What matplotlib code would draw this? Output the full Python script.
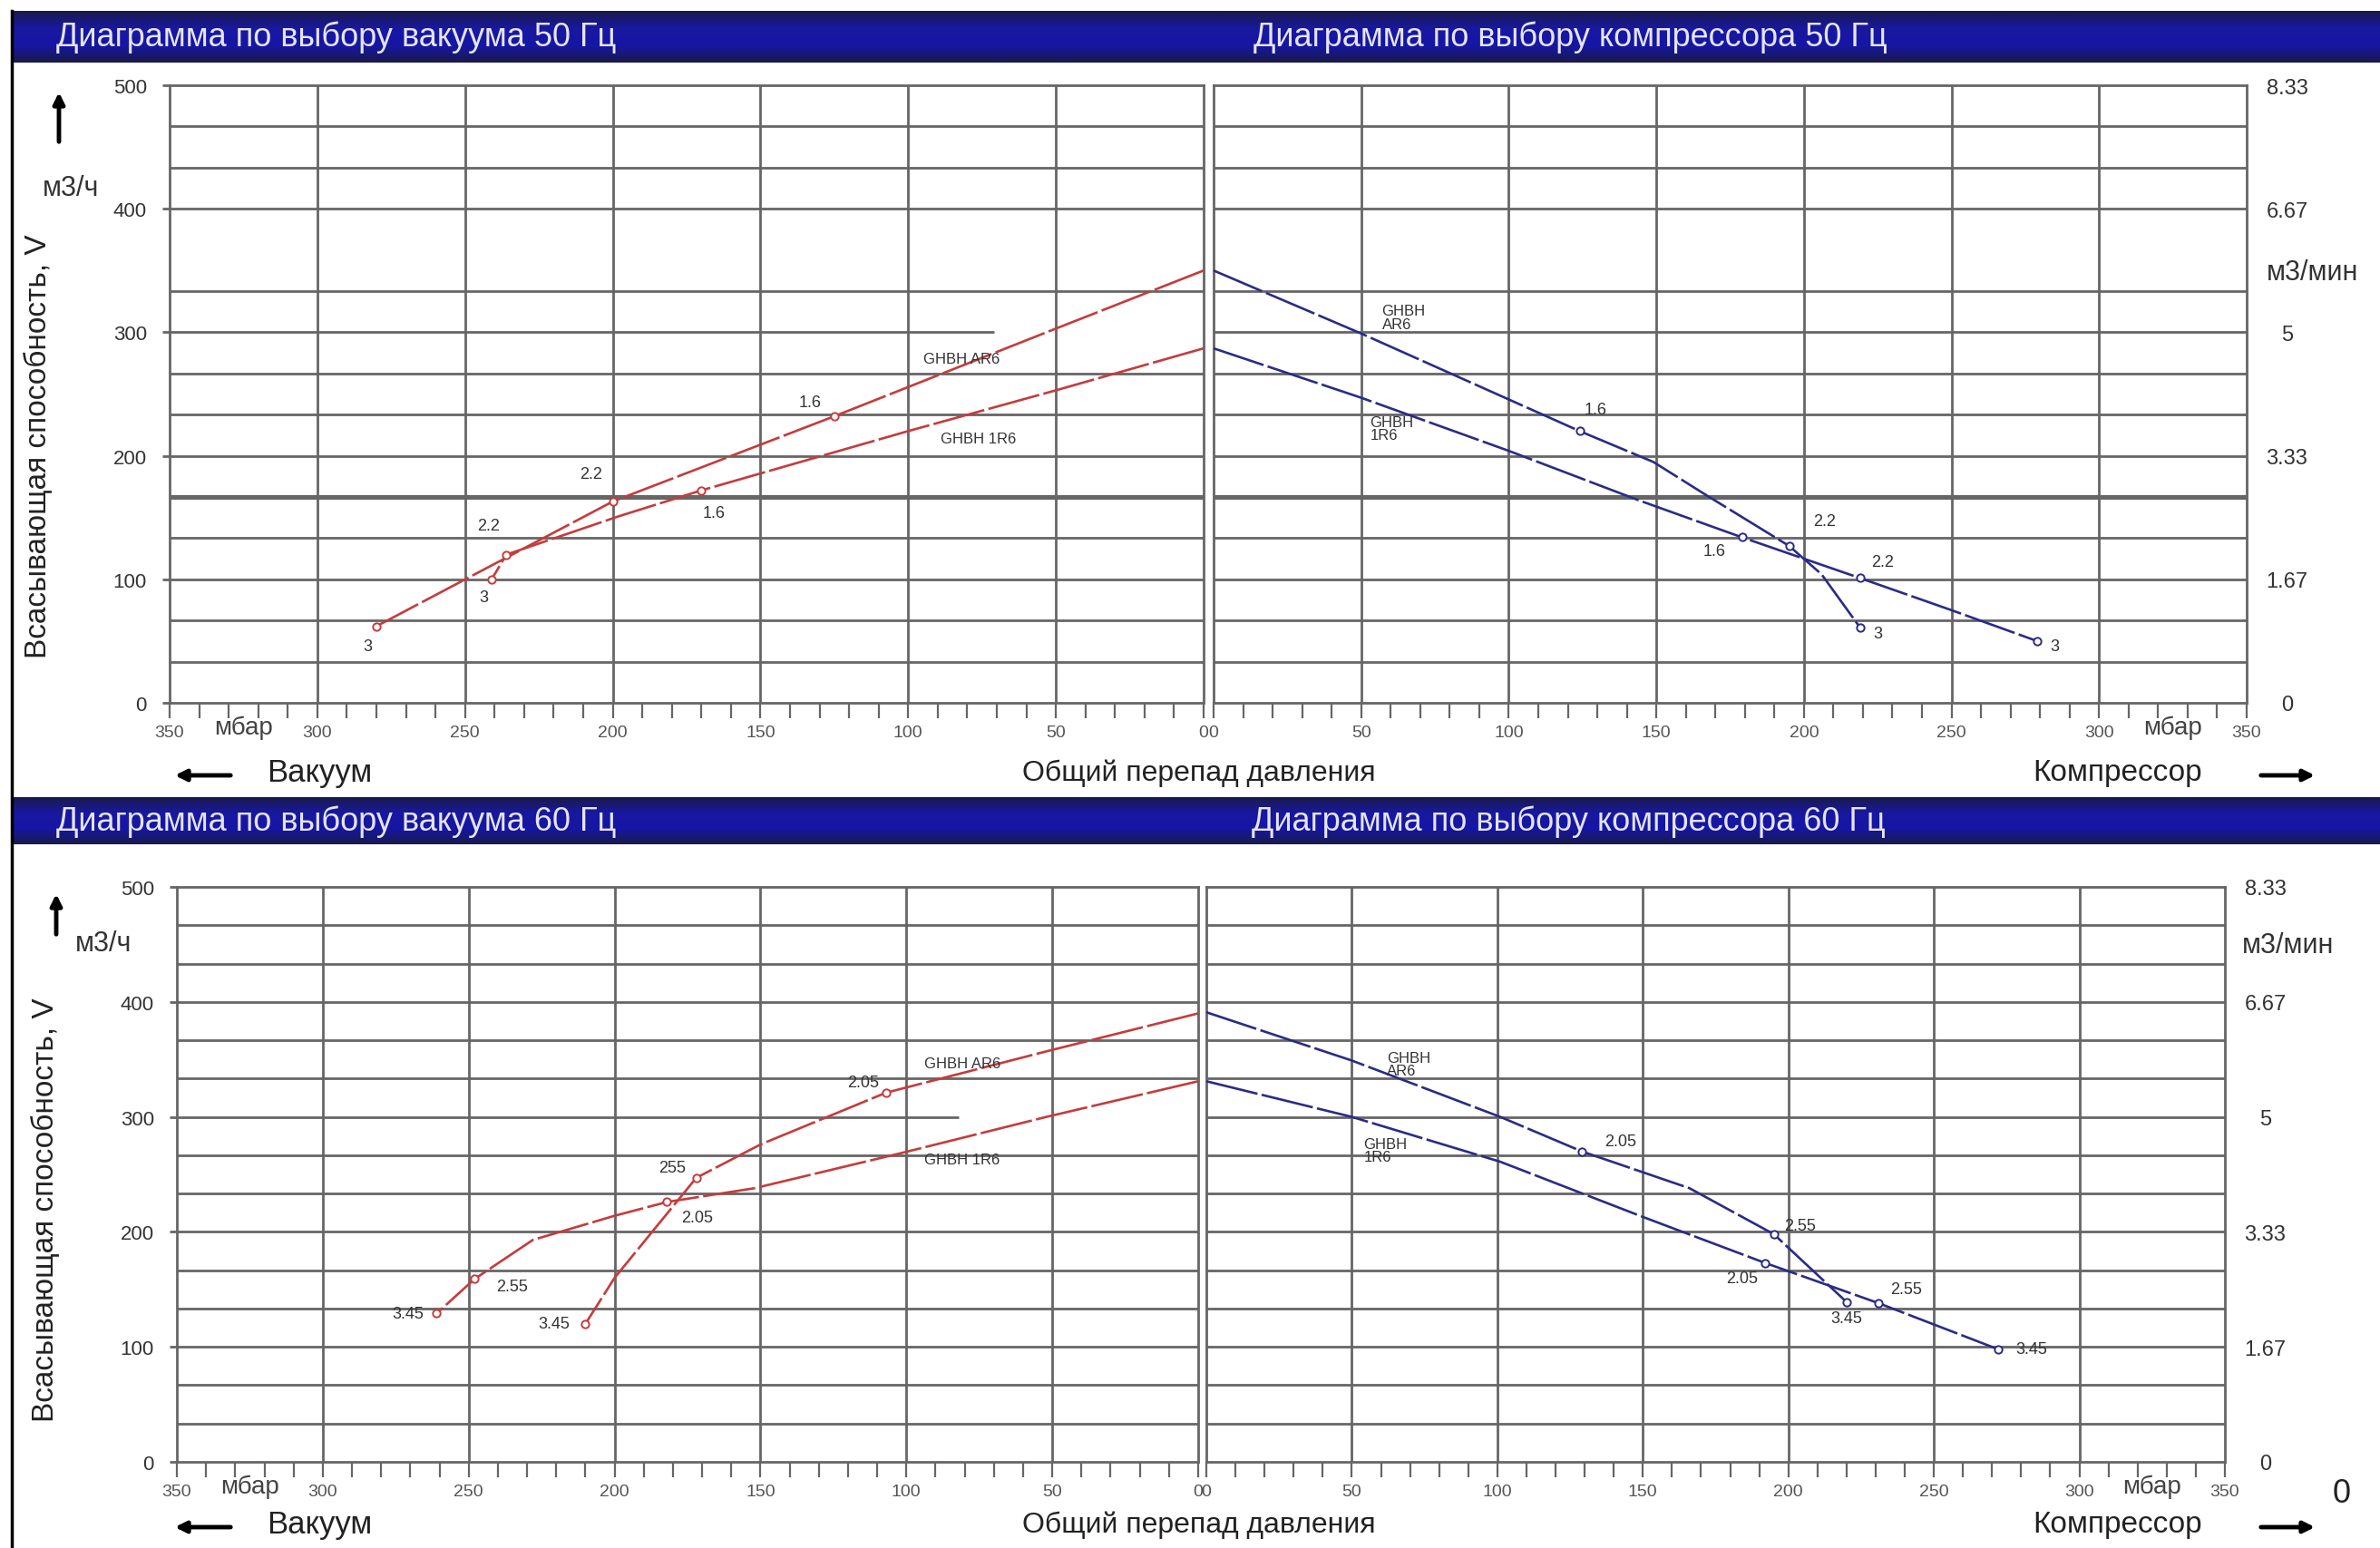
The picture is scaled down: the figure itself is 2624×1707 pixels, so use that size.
import matplotlib
matplotlib.use('Agg')
import numpy as np
import matplotlib.pyplot as plt
from matplotlib.ticker import MultipleLocator
from matplotlib.colors import LinearSegmentedColormap

plt.rcParams['font.family'] = ['Liberation Sans Narrow', 'Liberation Sans', 'DejaVu Sans']

#%% data (x in mbar, y in m3/h)
# vacuum 50 Hz
vac50_ar6_x = [0, 50, 125, 200, 280]
vac50_ar6_y = [350, 303, 232, 163, 62]
vac50_ar6_pts = [125, 200, 280]
vac50_ar6_vals = [232, 163, 62]
vac50_ar6_labs = ['1.6', '2.2', '3']
vac50_1r6_x = [0, 50, 100, 170, 198, 236, 241]
vac50_1r6_y = [287, 253, 220, 172, 151, 120, 100]
vac50_1r6_pts = [170, 236, 241]
vac50_1r6_vals = [172, 120, 100]
vac50_1r6_labs = ['1.6', '2.2', '3']

# compressor 50 Hz
comp50_ar6_x = [0, 50, 124, 149, 167, 195, 206, 219]
comp50_ar6_y = [350, 299, 220, 195, 168, 127, 104, 61]
comp50_ar6_pts = [124, 195, 219]
comp50_ar6_vals = [220, 127, 61]
comp50_ar6_labs = ['1.6', '2.2', '3']
comp50_1r6_x = [0, 50, 100, 144, 179, 219, 250, 279]
comp50_1r6_y = [287, 247, 204, 164, 134, 101, 75, 50]
comp50_1r6_pts = [179, 219, 279]
comp50_1r6_vals = [134, 101, 50]
comp50_1r6_labs = ['1.6', '2.2', '3']

# vacuum 60 Hz
vac60_ar6_x = [0, 52, 107, 150, 172, 200, 210]
vac60_ar6_y = [390, 357, 321, 276, 247, 160, 120]
vac60_ar6_pts = [107, 172, 210]
vac60_ar6_vals = [321, 247, 120]
vac60_ar6_labs = ['2.05', '255', '3.45']
vac60_1r6_x = [0, 52, 101, 152, 182, 200, 228, 248, 261]
vac60_1r6_y = [331, 300, 269, 238, 226, 214, 193, 159, 129]
vac60_1r6_pts = [182, 248, 261]
vac60_1r6_vals = [226, 159, 129]
vac60_1r6_labs = ['2.05', '2.55', '3.45']

# compressor 60 Hz
comp60_ar6_x = [0, 50, 101, 129, 166, 195, 220]
comp60_ar6_y = [391, 349, 300, 270, 238, 198, 139]
comp60_ar6_pts = [129, 195, 220]
comp60_ar6_vals = [270, 198, 139]
comp60_ar6_labs = ['2.05', '2.55', '3.45']
comp60_1r6_x = [0, 50, 101, 150, 192, 231, 272]
comp60_1r6_y = [331, 300, 261, 213, 173, 138, 98]
comp60_1r6_pts = [192, 231, 272]
comp60_1r6_vals = [173, 138, 98]
comp60_1r6_labs = ['2.05', '2.55', '3.45']

yticks_h = [0, 100, 200, 300, 400, 500]
yticks_min = ['0', '1.67', '3.33', '5', '6.67', '8.33']
xticks = [0, 50, 100, 150, 200, 250, 300, 350]

#%% layout
W, H = 2624, 1708
fig = plt.figure(figsize=(W / 100, H / 100), dpi=100)
gridc = '#666666'
red = '#c43c3c'
blue = '#2b2b86'

def box(x0, y0, x1, y1):
    return [x0 / W, 1 - y1 / H, (x1 - x0) / W, (y1 - y0) / H]

hdr_cmap = LinearSegmentedColormap.from_list('hdr', ['#1a1a4e', '#1818a0', '#1616a6', '#1a1a4e'])

def header(y0, y1, left_txt, right_txt, x_right):
    hax = fig.add_axes(box(13, y0, W, y1))
    hax.imshow(np.linspace(0, 1, 50).reshape(-1, 1), aspect='auto', cmap=hdr_cmap,
               extent=[0, 1, 0, 1])
    hax.axis('off')
    yc = 1 - (y0 + y1) / 2 / H
    fig.text(62 / W, yc, left_txt, color='#e4e4f0', fontsize=26, va='center')
    fig.text(x_right / W, yc, right_txt, color='#e4e4f0', fontsize=26, va='center')

def panel(rect, vac, top, cut300=None):
    ax = fig.add_axes(box(*rect))
    ax.set_ylim(0, 500)
    ax.set_xlim((350, 0) if vac else (0, 350))
    for k in range(1, 15):
        if top and k == 11:
            continue
        lw = 3.6 if (top and k == 5) else 2.0
        if k == 9 and cut300 is not None:
            ax.hlines(300, 350, cut300, color=gridc, lw=lw, zorder=1)
        else:
            ax.axhline(k * 100 / 3, color=gridc, lw=lw, zorder=1)
    for v in range(50, 350, 50):
        ax.axvline(v, color=gridc, lw=2.0, zorder=1)
    for s in ax.spines.values():
        s.set_color(gridc)
        s.set_linewidth(2.0)
    ax.set_xticks(xticks)
    ax.xaxis.set_minor_locator(MultipleLocator(10))
    ax.tick_params(axis='x', which='both', direction='out', length=12, width=1.6,
                   color=gridc, labelsize=14, labelcolor='#555555', pad=5)
    ax.set_yticks(yticks_h)
    if vac:
        ax.tick_params(axis='y', length=6, width=2, color=gridc, labelsize=16,
                       labelcolor='#333333', pad=12)
    else:
        ax.yaxis.tick_right()
        ax.set_yticklabels(yticks_min)
        ax.tick_params(axis='y', length=0, labelsize=17, labelcolor='#333333', pad=32)
        for tl in ax.get_yticklabels():
            tl.set_horizontalalignment('center')
    ax.annotate('мбар', xy=(325, 0), xycoords=('data', 'axes fraction'),
                xytext=(0, -19), textcoords='offset points', ha='center', va='center',
                fontsize=20, color='#444444')
    return ax

def curve(ax, xs, ys, px, py, labs, offs, color):
    ax.plot(xs, ys, color=color, lw=1.9, dashes=(22, 1.8), zorder=3)
    ax.plot(px, py, 'o', ms=6, mfc='white', mec=color, mew=1.4, zorder=4)
    for x, y, lab, off in zip(px, py, labs, offs):
        ax.annotate(lab, (x, y), xytext=off, textcoords='offset points',
                    ha='center', va='center', fontsize=13, color='#333333', zorder=5)

def curve_label(ax, x, y, txt):
    ax.text(x, y, txt, fontsize=12, color='#333333', ha='left', va='center',
            linespacing=0.95, zorder=5)

#%% top: 50 Hz
header(13, 70, 'Диаграмма по выбору вакуума 50 Гц', 'Диаграмма по выбору компрессора 50 Гц', 1382)
ax0 = panel((187, 95, 1327, 776), True, True, cut300=71)
ax1 = panel((1338, 95, 2477, 776), False, True)

curve(ax0, vac50_ar6_x, vac50_ar6_y, vac50_ar6_pts, vac50_ar6_vals, vac50_ar6_labs,
      [(-19, 11), (-17, 22), (-7, -16)], red)
curve(ax0, vac50_1r6_x, vac50_1r6_y, vac50_1r6_pts, vac50_1r6_vals, vac50_1r6_labs,
      [(10, -18), (-14, 23), (-6, -14)], red)
curve_label(ax0, 95, 279, 'GHBH AR6')
curve_label(ax0, 89, 214, 'GHBH 1R6')

curve(ax1, comp50_ar6_x, comp50_ar6_y, comp50_ar6_pts, comp50_ar6_vals, comp50_ar6_labs,
      [(13, 17), (28, 20), (14, -5)], blue)
curve(ax1, comp50_1r6_x, comp50_1r6_y, comp50_1r6_pts, comp50_1r6_vals, comp50_1r6_labs,
      [(-22, -11), (18, 13), (14, -4)], blue)
curve_label(ax1, 57, 312, 'GHBH\nAR6')
curve_label(ax1, 53, 222, 'GHBH\n1R6')

#%% bottom: 60 Hz
header(880, 932, 'Диаграмма по выбору вакуума 60 Гц', 'Диаграмма по выбору компрессора 60 Гц', 1380)
ax2 = panel((195, 979, 1321, 1613), True, False, cut300=82)
ax3 = panel((1330, 979, 2453, 1613), False, False)

curve(ax2, vac60_ar6_x, vac60_ar6_y, vac60_ar6_pts, vac60_ar6_vals, vac60_ar6_labs,
      [(-18, 8), (-19, 8), (-25, 0)], red)
curve(ax2, vac60_1r6_x, vac60_1r6_y, vac60_1r6_pts, vac60_1r6_vals, vac60_1r6_labs,
      [(24, -12), (30, -6), (-23, 0)], red)
curve_label(ax2, 94, 347, 'GHBH AR6')
curve_label(ax2, 94, 263, 'GHBH 1R6')

curve(ax3, comp60_ar6_x, comp60_ar6_y, comp60_ar6_pts, comp60_ar6_vals, comp60_ar6_labs,
      [(31, 8), (21, 7), (0, -13)], blue)
curve(ax3, comp60_1r6_x, comp60_1r6_y, comp60_1r6_pts, comp60_1r6_vals, comp60_1r6_labs,
      [(-18, -12), (22, 11), (27, 0)], blue)
curve_label(ax3, 62, 346, 'GHBH\nAR6')
curve_label(ax3, 54, 271, 'GHBH\n1R6')

#%% axis captions and arrows
def arrow(x0, y0, x1, y1):
    fig.add_artist(plt.matplotlib.patches.FancyArrowPatch(
        (x0 / W, 1 - y0 / H), (x1 / W, 1 - y1 / H), transform=fig.transFigure,
        arrowstyle='-|>', mutation_scale=18, lw=3.5, color='black'))

for yb, ylab, xm3, ym3, xmin, ymin, ax_up in [(853, 492, 78, 208, 2499, 301, (65, 160, 100)),
                                               (1682, 1334, 114, 1041, 2472, 1043, (62, 1034, 984))]:
    fig.text(352 / W, 1 - yb / H, 'Вакуум', fontsize=25, color='#222222', ha='center', va='center')
    fig.text(1322 / W, 1 - yb / H, 'Общий перепад давления', fontsize=23, color='#222222',
             ha='center', va='center')
    fig.text(2335 / W, 1 - yb / H, 'Компрессор', fontsize=24, color='#222222', ha='center', va='center')
    arrow(257, yb + 3, 190, yb + 3)
    arrow(2490, yb + 3, 2555, yb + 3)
    fig.text(42 / W if yb < 1000 else 50 / W, 1 - ylab / H, 'Всасывающая способность, V',
             rotation=90, fontsize=24, family=['Liberation Sans', 'DejaVu Sans'],
             ha='center', va='center', color='#222222')
    fig.text(xm3 / W, 1 - ym3 / H, 'м3/ч', fontsize=22, color='#333333', ha='center', va='center')
    fig.text(xmin / W, 1 - ymin / H, 'м3/мин', fontsize=22, color='#333333', ha='left', va='center')
    arrow(ax_up[0], ax_up[1], ax_up[0], ax_up[2])

fig.text(2582 / W, 1 - 1648 / H, '0', fontsize=26, color='#222222', ha='center', va='center')
fig.add_artist(plt.Line2D([13 / W, 13 / W], [0, 1 - 13 / H], transform=fig.transFigure,
                          color='black', lw=2.5))

plt.savefig('out.png', dpi=100)
